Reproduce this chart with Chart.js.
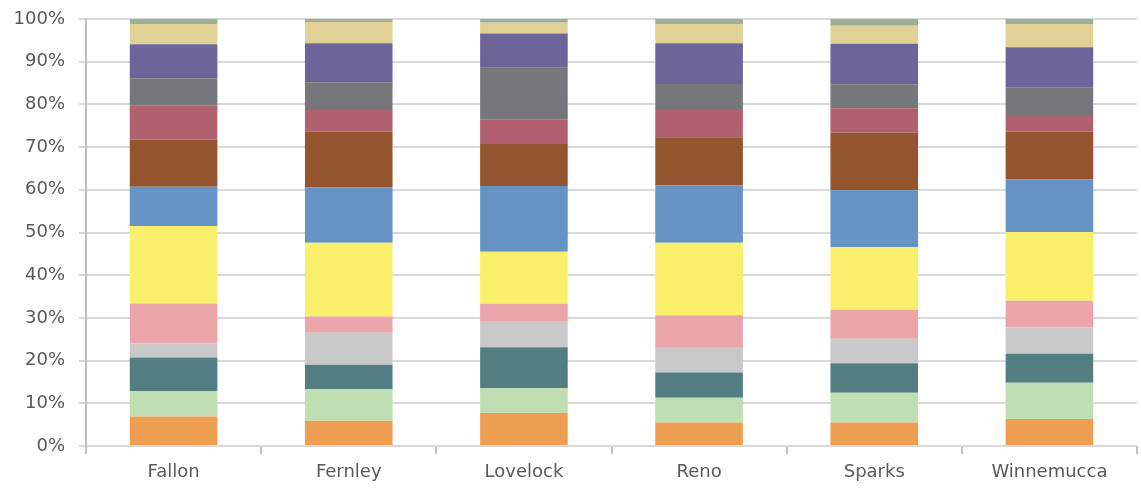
<!DOCTYPE html>
<html>
<head>
<meta charset="utf-8">
<script src="https://cdn.jsdelivr.net/npm/chart.js@4"></script>
<style>
  html, body { margin: 0; padding: 0; background: #fff; }
  #wrap { width: 1141px; height: 491px; }
</style>
</head>
<body>
<div id="wrap"><canvas id="shareChart"></canvas></div>
<script>
const cities = ['Fallon', 'Fernley', 'Lovelock', 'Reno', 'Sparks', 'Winnemucca'];

// share of each segment per city, bottom to top (percent)
const seg01 = [6.9, 5.9, 7.7, 5.5, 5.5, 6.3];
const seg02 = [6.0, 7.4, 5.8, 5.8, 7.0, 8.5];
const seg03 = [7.8, 5.7, 9.6, 5.9, 6.9, 6.8];
const seg04 = [3.3, 7.5, 6.2, 5.8, 5.7, 6.2];
const seg05 = [9.4, 3.8, 4.0, 7.6, 6.8, 6.2];
const seg06 = [18.1, 17.3, 12.2, 17.0, 14.7, 16.1];
const seg07 = [9.2, 13.0, 15.4, 13.4, 13.3, 12.4];
const seg08 = [11.1, 13.0, 9.8, 11.3, 13.5, 11.1];
const seg09 = [7.9, 5.1, 5.8, 6.4, 5.7, 3.7];
const seg10 = [6.4, 6.5, 12.1, 6.1, 5.6, 6.6];
const seg11 = [8.0, 9.1, 8.0, 9.5, 9.5, 9.5];
const seg12 = [4.7, 5.0, 2.5, 4.5, 4.2, 5.4];
const seg13 = [1.2, 0.7, 0.9, 1.2, 1.6, 1.2];

const yTicks = [0, 10, 20, 30, 40, 50, 60, 70, 80, 90, 100];

const segments = [seg01, seg02, seg03, seg04, seg05, seg06, seg07, seg08, seg09, seg10, seg11, seg12, seg13];
const colors = ['#ED9E50', '#BFDFB3', '#527E82', '#C9C9C9', '#EBA4AA', '#F9EF6B', '#6593C4',
                '#94542D', '#B0606E', '#76777B', '#6D6499', '#E1D197', '#A0AE96'];

const ctx = document.getElementById('shareChart').getContext('2d');
new Chart(ctx, {
  type: 'bar',
  data: {
    labels: cities,
    datasets: segments.map((d, i) => ({
      label: 'Segment ' + (i + 1),
      data: d,
      backgroundColor: colors[i],
      borderWidth: 0,
      categoryPercentage: 1,
      barPercentage: 0.5,
    })),
  },
  options: {
    responsive: true,
    maintainAspectRatio: false,
    animation: false,
    layout: { padding: { top: 19, right: 4, left: 0, bottom: 0 } },
    scales: {
      x: {
        stacked: true,
        grid: { display: true, drawOnChartArea: false, color: '#BFBFBF', lineWidth: 2, tickLength: 8 },
        border: { display: false },
        ticks: { color: '#595959', font: { family: 'DejaVu Sans', size: 18 }, padding: 8 },
        afterFit: s => { s.height = 45; },
      },
      y: {
        stacked: true,
        min: 0,
        max: 100,
        afterBuildTicks: s => { s.ticks = yTicks.map(v => ({ value: v })); },
        grid: { color: '#D9D9D9', lineWidth: 2, tickLength: 7 },
        border: { display: true, color: '#BFBFBF', width: 2 },
        ticks: {
          color: '#595959',
          font: { family: 'DejaVu Sans', size: 18 },
          padding: 14,
          callback: v => v + '%',
        },
        afterFit: s => { s.width = 86; s.paddingTop = 0; s.paddingBottom = 0; },
      },
    },
    plugins: {
      legend: { display: false },
      tooltip: { enabled: false },
    },
  },
});
</script>
</body>
</html>
